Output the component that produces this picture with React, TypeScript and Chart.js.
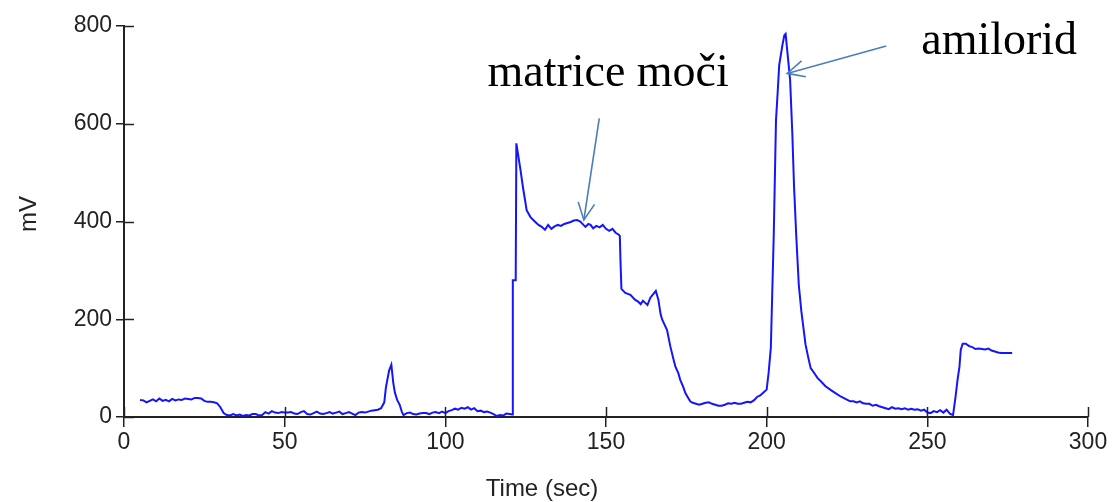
import React, { useEffect, useRef } from "react";
import { Chart, registerables } from "chart.js";

Chart.register(...registerables);

const timeSec = [
  5, 6, 7, 8, 9, 10, 11, 12, 13, 14, 15, 16, 17, 18, 19, 20, 21, 22, 23, 24, 25, 26, 27, 28, 29, 30, 31, 32,
  33, 34, 35, 36, 37, 38, 39, 40, 41, 42, 43, 44, 45, 46, 47, 48, 49, 50, 51, 52, 53, 54, 55, 56, 57, 58, 59,
  60, 61, 62, 63, 64, 65, 66, 67, 68, 69, 70, 71, 72, 73, 74, 75, 76, 77, 78, 79, 80, 81, 81.5, 82.5, 83.2,
  83.8, 84.3, 85, 85.8, 86.5, 87, 88, 89, 90, 91, 92, 93, 94, 95, 96, 97, 98, 99, 100, 101, 102, 103, 104,
  105, 106, 107, 108, 109, 110, 111, 112, 113, 114, 115, 116, 117, 118, 119, 120, 120.8, 121, 121.9, 122.1,
  122.5, 123.4, 124.2, 124.8, 125.3, 126.5, 128, 129, 130, 131, 132, 133, 134, 135, 136, 137, 138, 139, 140,
  141, 142, 143, 143.6, 144.5, 145.2, 146, 147, 148, 149, 150, 151, 152, 153, 154, 154.3, 154.5, 154.8, 156,
  157.6, 159, 160, 160.8, 161.5, 162.3, 162.9, 163.8, 165, 165.5, 166.3, 167, 167.5, 168, 169, 170, 171,
  171.6, 172.5, 173.1, 174, 174.7, 175.5, 176.2, 177, 178, 179, 180, 181, 182, 183, 184, 185, 186, 187, 188,
  189, 190, 191, 192, 193, 194, 195, 196, 197, 198, 199, 200, 200.6, 201.3, 202.2, 202.9, 203.4, 203.9, 204.9,
  205.5, 205.9, 206.4, 207.3, 208, 208.5, 209.2, 210, 210.8, 212.1, 213, 213.7, 215, 215.8, 217, 218.3, 220,
  221.4, 223, 224.5, 226, 227, 228, 229, 230, 231, 232, 233, 234, 235, 236, 237, 238, 239, 240, 241, 242,
  243, 244, 245, 246, 247, 248, 249, 250, 251, 252, 253, 254, 255, 256, 257, 258, 258.8, 259.4, 260, 260.4,
  261, 262, 263, 264, 265, 266, 267, 268, 269, 270, 271, 272, 273, 274, 275, 276.4,
];

const millivolts = [
  35, 34, 30, 33, 36, 32, 38, 33, 35, 32, 37, 34, 36, 35, 38, 37, 36, 39, 39, 38, 33, 31, 31, 30, 28, 20, 8, 4,
  3, 6, 3, 5, 2, 4, 3, 6, 6, 3, 4, 10, 7, 12, 9, 8, 10, 9, 9, 10, 7, 6, 10, 12, 6, 5, 8,
  11, 7, 6, 8, 10, 7, 9, 11, 6, 8, 10, 7, 4, 9, 10, 9, 11, 13, 14, 15, 18, 30, 60, 95, 107,
  70, 50, 35, 25, 10, 4, 8, 9, 6, 5, 7, 8, 8, 6, 9, 10, 8, 11, 8, 12, 14, 17, 15,
  19, 17, 20, 15, 18, 12, 13, 10, 11, 9, 6, 2, 4, 3, 7, 6, 5, 280, 280, 560,
  543, 505, 468, 444, 423, 409, 399, 393, 389, 383, 393, 385, 390, 393, 391, 395, 397, 399, 402,
  403, 400, 393, 389, 395, 393, 386, 391, 388, 393, 385, 381, 385, 377, 373, 370, 321, 262, 254,
  250, 240, 236, 231, 238, 233, 229, 244, 254, 258, 240, 210, 199, 192, 178, 145, 118,
  103, 90, 76, 62, 49, 40, 32, 29, 27, 25, 27, 29, 30, 27, 25, 23, 23, 25, 28,
  27, 29, 27, 27, 29, 31, 30, 34, 41, 44, 50, 56, 90, 142, 372, 607, 662, 720, 761,
  781, 784, 750, 689, 577, 475, 372, 270, 216, 148, 120, 100, 88, 80, 72, 63, 55,
  49, 42, 37, 32, 32, 30, 32, 28, 27, 27, 23, 25, 22, 20, 18, 16, 20, 17, 18, 16,
  18, 15, 17, 15, 16, 13, 15, 9, 8, 12, 10, 14, 9, 15, 7, 4, 42, 76, 103, 137,
  150, 150, 145, 143, 139, 140, 139, 138, 140, 136, 134, 132, 131, 131, 131, 131,
];

const xTicks = [0, 50, 100, 150, 200, 250, 300];
const yTicks = [0, 200, 400, 600, 800];

const noteLabels = ["matrice moči", "amilorid"];
// text anchor (left, baseline) in data units
const noteTextX = [113.1, 248.1];
const noteTextY = [677, 742];
// arrow tail and tip in data units
const arrowTailX = [147.9, 237.2];
const arrowTailY = [611, 759];
const arrowTipX = [143.1, 206.4];
const arrowTipY = [403, 703];

const xTitle = "Time (sec)";
const yTitle = "mV";

const decorPlugin = {
  id: "decor",
  afterDraw(chart: any) {
    const ctx = chart.ctx;
    const xs = chart.scales.x;
    const ys = chart.scales.y;
    const area = chart.chartArea;
    ctx.save();
    // inward tick marks
    ctx.strokeStyle = "#222";
    ctx.lineWidth = 1.5;
    xTicks.forEach((t) => {
      const px = Math.round(xs.getPixelForValue(t)) + 0.5;
      ctx.beginPath();
      ctx.moveTo(px, area.bottom);
      ctx.lineTo(px, area.bottom - 10);
      ctx.stroke();
    });
    yTicks.forEach((t) => {
      const py = Math.round(ys.getPixelForValue(t)) + 0.5;
      ctx.beginPath();
      ctx.moveTo(area.left, py);
      ctx.lineTo(area.left + 10, py);
      ctx.stroke();
    });
    // axis titles
    ctx.fillStyle = "#222";
    ctx.font = '24px "Liberation Sans", Arial, sans-serif';
    ctx.textAlign = "center";
    ctx.textBaseline = "middle";
    ctx.fillText(xTitle, 542, 489);
    ctx.save();
    ctx.translate(29, 214);
    ctx.rotate(-Math.PI / 2);
    ctx.fillText(yTitle, 0, 0);
    ctx.restore();
    // annotations
    ctx.fillStyle = "#000";
    ctx.font = '46px "Liberation Serif", "Times New Roman", serif';
    ctx.textAlign = "left";
    ctx.textBaseline = "alphabetic";
    noteLabels.forEach((lab, i) => {
      ctx.fillText(lab, xs.getPixelForValue(noteTextX[i]), ys.getPixelForValue(noteTextY[i]));
    });
    ctx.strokeStyle = "#4a7ebb";
    ctx.lineWidth = 1.6;
    noteLabels.forEach((_, i) => {
      const x0 = xs.getPixelForValue(arrowTailX[i]);
      const y0 = ys.getPixelForValue(arrowTailY[i]);
      const x1 = xs.getPixelForValue(arrowTipX[i]);
      const y1 = ys.getPixelForValue(arrowTipY[i]);
      ctx.beginPath();
      ctx.moveTo(x0, y0);
      ctx.lineTo(x1, y1);
      ctx.stroke();
      const ang = Math.atan2(y0 - y1, x0 - x1);
      const len = 19;
      const spread = 0.45;
      ctx.beginPath();
      ctx.moveTo(x1 + len * Math.cos(ang - spread), y1 + len * Math.sin(ang - spread));
      ctx.lineTo(x1, y1);
      ctx.lineTo(x1 + len * Math.cos(ang + spread), y1 + len * Math.sin(ang + spread));
      ctx.stroke();
    });
    ctx.restore();
  },
};

export default function App() {
  const ref = useRef<HTMLCanvasElement | null>(null);
  useEffect(() => {
    if (!ref.current) return;
    const points = timeSec.map((t, i) => ({ x: t, y: millivolts[i] }));
    const chart = new Chart(ref.current, {
      type: "line",
      data: {
        datasets: [
          {
            data: points,
            borderColor: "#1414ff",
            borderWidth: 2,
            pointRadius: 0,
            tension: 0,
            fill: false,
          },
        ],
      },
      options: {
        animation: false,
        responsive: false,
        maintainAspectRatio: false,
        events: [],
        layout: { padding: { top: 26, right: 27, left: 0, bottom: 0 } },
        plugins: { legend: { display: false }, tooltip: { enabled: false } },
        scales: {
          x: {
            type: "linear",
            min: 0,
            max: 300,
            afterFit: (s: any) => {
              s.height = 85;
            },
            afterBuildTicks: (s: any) => {
              s.ticks = xTicks.map((v) => ({ value: v }));
            },
            ticks: {
              color: "#222",
              padding: 2,
              maxRotation: 0,
              font: { family: '"Liberation Sans", Arial, sans-serif', size: 23 },
            },
            grid: { drawOnChartArea: false, tickLength: 10, color: "#222", lineWidth: 1.5 },
            border: { color: "#222", width: 2 },
          },
          y: {
            type: "linear",
            min: 0,
            max: 800,
            afterFit: (s: any) => {
              s.width = 124;
            },
            afterBuildTicks: (s: any) => {
              s.ticks = yTicks.map((v) => ({ value: v }));
            },
            ticks: {
              color: "#222",
              padding: 4,
              font: { family: '"Liberation Sans", Arial, sans-serif', size: 23 },
            },
            grid: { drawOnChartArea: false, tickLength: 8, color: "#222", lineWidth: 1.5 },
            border: { color: "#222", width: 2 },
          },
        },
      },
      plugins: [decorPlugin],
    });
    return () => chart.destroy();
  }, []);
  return (
    <div style={{ position: "fixed", left: 0, top: 0, width: 1115, height: 502, background: "#fff" }}>
      <canvas ref={ref} width={1115} height={502} style={{ width: 1115, height: 502 }} />
    </div>
  );
}
